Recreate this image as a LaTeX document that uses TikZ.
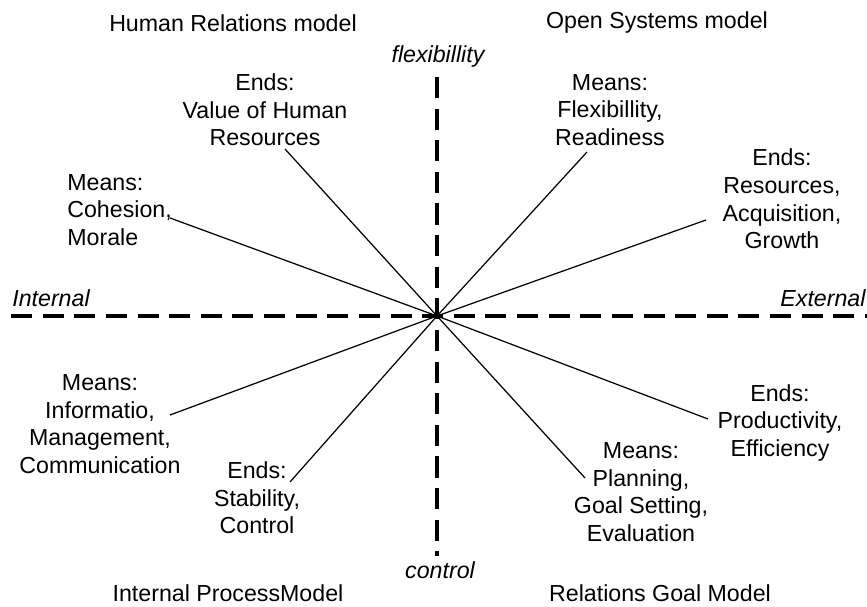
\documentclass[tikz,border=0pt]{standalone}
\usepackage{fontspec}
\setmainfont{Liberation Sans}
\usetikzlibrary{positioning}

\begin{document}
\begin{tikzpicture}[x=0.02cm,y=-0.02cm,
                    axis line/.style={line width=2.2pt,dash pattern=on 12pt off 6pt},
                    spoke/.style={line width=0.7pt},
                    label node/.style={align=center,inner sep=0pt,font=\fontsize{13.2}{15.7}\selectfont},
                    axis label/.style={inner sep=0pt,font=\fontsize{13.2}{15.7}\selectfont\itshape}]
  \useasboundingbox (0,0) rectangle (867,607);

  % axes
  \coordinate (c) at (437,316);
  \coordinate (top) at (437,77);
  \coordinate (bottom) at (437,556);
  \coordinate (left) at (11,316);
  \coordinate (right) at (867,316);
  \draw[axis line] (top) -- (bottom);
  \draw[axis line] (left) -- (right);

  \node[axis label] (flex) at (438,57) {flexibillity};
  \node[axis label] (ctrl) at (440,570) {control};
  \node[axis label] (int) at (51,298) {Internal};
  \node[axis label] (ext) at (823,298) {External};

  % quadrant titles
  \node[label node] (hr) at (233,23) {Human Relations model};
  \node[label node] (os) at (657,23) {Open Systems model};
  \node[label node] (ip) at (228,593) {Internal ProcessModel};
  \node[label node] (rg) at (660,593) {Relations Goal Model};

  % means and ends
  \node[label node] (hrends) at (265,110) {Ends:\\Value of Human\\Resources};
  \node[label node,align=left,anchor=west] (hrmeans) at (67,210) {Means:\\Cohesion,\\Morale};
  \node[label node] (osmeans) at (610,110) {Means:\\Flexibillity,\\Readiness};
  \node[label node] (osends) at (782,199) {Ends:\\Resources,\\Acquisition,\\Growth};
  \node[label node] (ipmeans) at (100,424) {Means:\\Informatio,\\Management,\\Communication};
  \node[label node] (ipends) at (257,498) {Ends:\\Stability,\\Control};
  \node[label node] (rgmeans) at (641,492) {Means:\\Planning,\\Goal Setting,\\Evaluation};
  \node[label node] (rgends) at (780,423) {Ends:\\Productivity,\\Efficiency};

  \coordinate (hrendsend) at (285,149);
  \coordinate (hrmeansend) at (170,218);
  \coordinate (osmeansend) at (587,152);
  \coordinate (osendsend) at (706,220);
  \coordinate (ipmeansend) at (170,415);
  \coordinate (ipendsend) at (290,482);
  \coordinate (rgmeansend) at (585,478);
  \coordinate (rgendsend) at (708,419);

  \foreach \e in {hrendsend,hrmeansend,osmeansend,osendsend,ipmeansend,ipendsend,rgmeansend,rgendsend}
    \draw[spoke] (c) -- (\e);

\end{tikzpicture}
\end{document}
